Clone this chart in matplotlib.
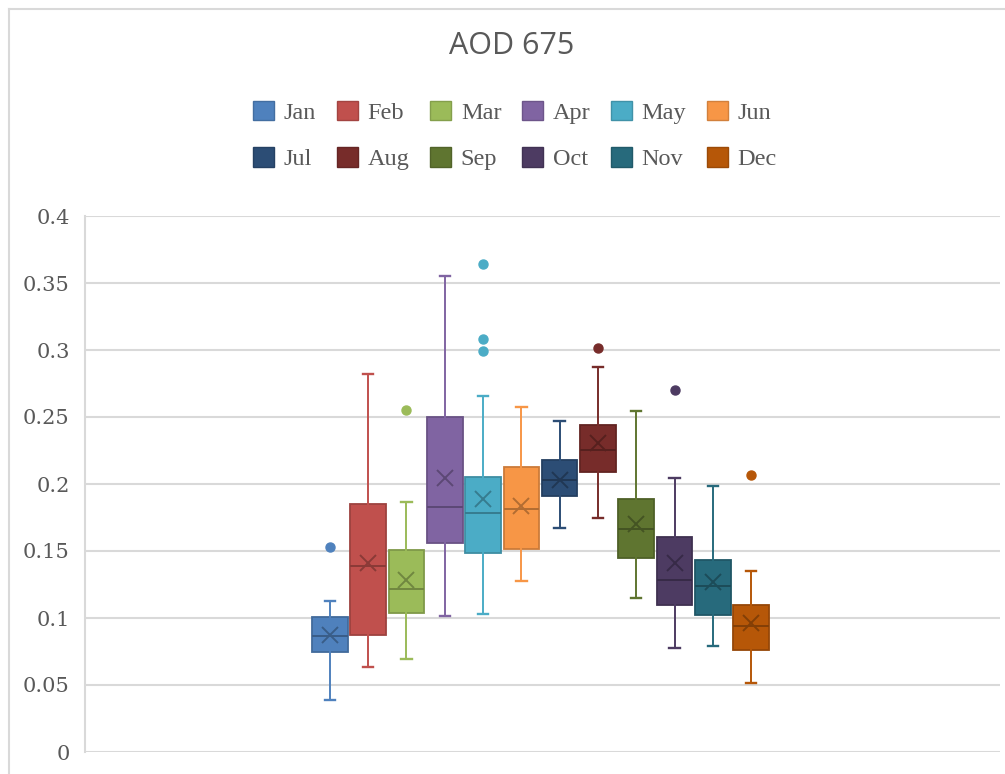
import matplotlib.pyplot as plt
import matplotlib.colors as mcolors
from matplotlib.patches import Patch
from matplotlib.lines import Line2D
import numpy as np

# monthly AOD 675 box-plot statistics
months = ['Jan', 'Feb', 'Mar', 'Apr', 'May', 'Jun',
          'Jul', 'Aug', 'Sep', 'Oct', 'Nov', 'Dec']
whislo = [0.0386, 0.0634, 0.0691, 0.1018, 0.1028, 0.1274,
          0.1670, 0.1745, 0.1150, 0.0773, 0.0793, 0.0517]
q1 = [0.0743, 0.0872, 0.1041, 0.1561, 0.1487, 0.1517,
      0.1908, 0.2092, 0.1450, 0.1100, 0.1026, 0.0760]
med = [0.0867, 0.1388, 0.1214, 0.1831, 0.1782, 0.1812,
       0.2030, 0.2253, 0.1663, 0.1281, 0.1236, 0.0941]
q3 = [0.1008, 0.1849, 0.1504, 0.2501, 0.2055, 0.2129,
      0.2179, 0.2444, 0.1888, 0.1608, 0.1435, 0.1095]
whishi = [0.1125, 0.2818, 0.1864, 0.3555, 0.2657, 0.2575,
          0.2469, 0.2873, 0.2545, 0.2042, 0.1988, 0.1348]
means = [0.0870, 0.1410, 0.1281, 0.2042, 0.1888, 0.1834,
         0.2030, 0.2307, 0.1698, 0.1412, 0.1269, 0.0959]
fliers = [[0.1529], [], [0.2553], [], [0.3639, 0.3083, 0.2992], [],
          [], [0.3017], [], [0.2702], [], [0.2069]]
colors = ['#4F81BD', '#C0504D', '#9BBB59', '#8064A2', '#4BACC6', '#F79646',
          '#2C4D75', '#772C2A', '#5F7530', '#4D3B62', '#276A7C', '#B65708']
yticks = [0, 0.05, 0.1, 0.15, 0.2, 0.25, 0.3, 0.35, 0.4]
ytick_labels = ['0', '0.05', '0.1', '0.15', '0.2', '0.25', '0.3', '0.35', '0.4']

txt_col = '#595959'
grid_col = '#D9D9D9'


def darker(c, f):
    r, g, b = mcolors.to_rgb(c)
    return (r * f, g * f, b * f)


fig = plt.figure(figsize=(10.05, 7.74), dpi=100)
ax = fig.add_axes([85 / 1005, 1 - 752 / 774, 915 / 1005, 536 / 774])

for i, m in enumerate(months):
    st = dict(label=m, whislo=whislo[i], q1=q1[i], med=med[i], q3=q3[i],
              whishi=whishi[i], mean=means[i], fliers=fliers[i])
    c = colors[i]
    dk = darker(c, 0.82)
    ax.bxp([st], positions=[i + 1], widths=0.93, capwidths=0.27,
           showmeans=True, patch_artist=True,
           boxprops=dict(facecolor=c, edgecolor=dk, linewidth=1.3),
           medianprops=dict(color=darker(c, 0.72), linewidth=1.4),
           meanprops=dict(marker='x', markersize=11.5, markeredgecolor=darker(c, 0.72),
                          markeredgewidth=1.4),
           whiskerprops=dict(color=c, linewidth=1.4),
           capprops=dict(color=c, linewidth=1.7),
           flierprops=dict(marker='o', markersize=6.5, markerfacecolor=c,
                           markeredgecolor=c))

ax.set_xlim(1 - 245 / 38.3, 12 + 249 / 38.3)
ax.set_ylim(0, 0.4)
ax.set_yticks(yticks)
ax.set_yticklabels(ytick_labels, family='DejaVu Serif', fontsize=15, color=txt_col)
ax.set_xticks([])
ax.tick_params(axis='y', length=0, pad=11)
ax.grid(axis='y', color=grid_col, linewidth=1.5)
ax.set_axisbelow(True)
for s in ['top', 'right', 'bottom']:
    ax.spines[s].set_visible(False)
ax.spines['left'].set_color(grid_col)
ax.spines['left'].set_linewidth(1.5)

fig.text(512 / 1005, 1 - 46 / 774, 'AOD 675', ha='center', va='center',
         family='Open Sans', fontsize=22, color=txt_col)

# legend fills row by row: reorder so matplotlib's column filling gives 2 rows of 6
handles = [Patch(facecolor=c, edgecolor=darker(c, 0.85), linewidth=1.0) for c in colors]
order = [j for i in range(6) for j in (i, i + 6)]
fig.legend([handles[k] for k in order], [months[k] for k in order], ncol=6, loc='center',
           bbox_to_anchor=(515 / 1005, 1 - 135.5 / 774), frameon=False,
           prop=dict(family='Liberation Serif', size=17.5), labelcolor=txt_col,
           handlelength=0.86, handleheight=0.86, handletextpad=0.4,
           columnspacing=0.85, labelspacing=0.95)

# chart frame (only left and top edges are visible in the crop)
fig.add_artist(Line2D([8.5 / 1005, 8.5 / 1005], [0, 1 - 8.5 / 774],
                      transform=fig.transFigure, color=grid_col, linewidth=1.5))
fig.add_artist(Line2D([8.5 / 1005, 1], [1 - 8.5 / 774, 1 - 8.5 / 774],
                      transform=fig.transFigure, color=grid_col, linewidth=1.5))

fig.savefig('out.png', dpi=100)
